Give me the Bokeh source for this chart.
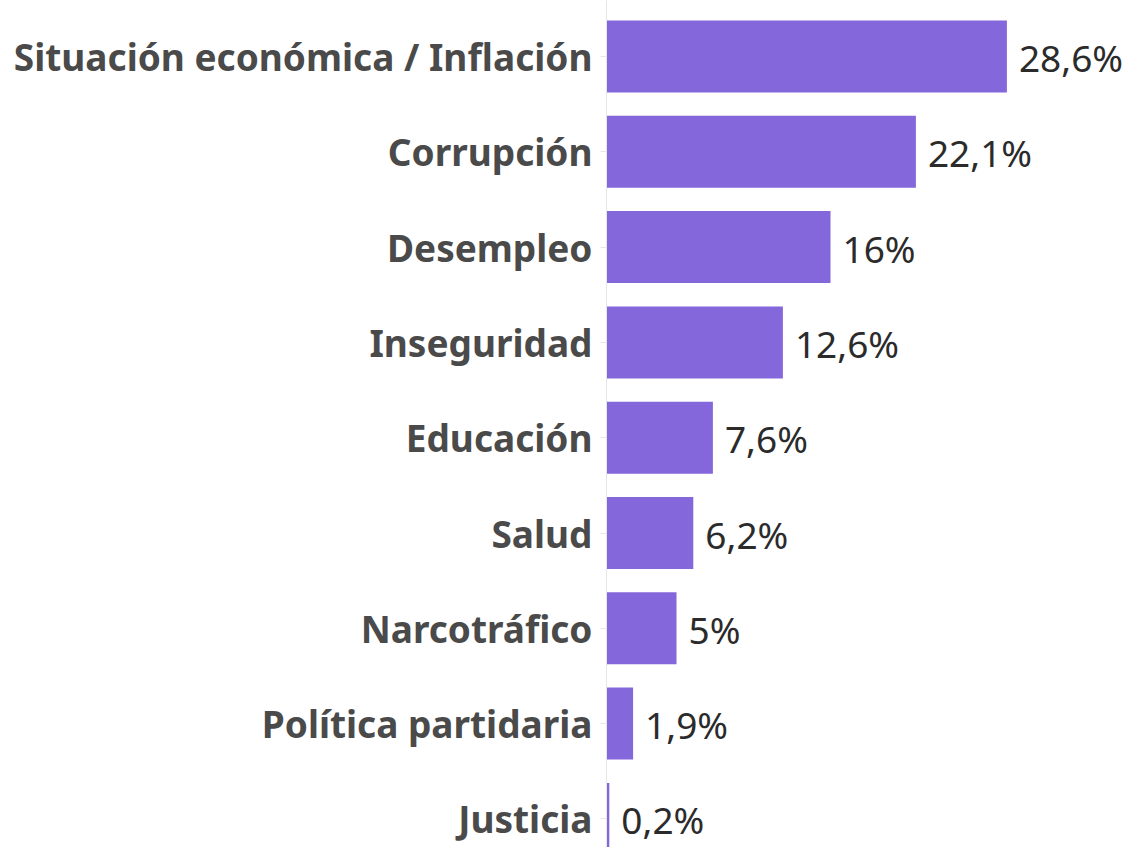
from bokeh.plotting import figure
from bokeh.models import ColumnDataSource, Range1d, FixedTicker
from bokeh.core.properties import value
from bokeh.embed import file_html
from bokeh.resources import INLINE

categories = ["Situación económica / Inflación", "Corrupción", "Desempleo", "Inseguridad",
              "Educación", "Salud", "Narcotráfico", "Política partidaria", "Justicia"]
values = [28.6, 22.1, 16.0, 12.6, 7.6, 6.2, 5.0, 1.9, 0.2]
value_labels = ["28,6%", "22,1%", "16%", "12,6%", "7,6%", "6,2%", "5%", "1,9%", "0,2%"]

idx = list(range(len(categories)))
src = ColumnDataSource(dict(y=idx, v=values, lab=value_labels))

W, H = 1129, 847
left = 606
band = 95.3
top_c = 56.0
p = figure(width=W, height=H, output_backend="svg", toolbar_location=None,
           x_range=Range1d(0, (W - left) / 14.0),
           y_range=Range1d((H - top_c) / band, -top_c / band))
p.min_border_left = left
p.min_border_right = 0
p.min_border_top = 0
p.min_border_bottom = 0
p.outline_line_color = None
p.background_fill_color = "white"
p.border_fill_color = "white"
p.grid.visible = False
p.xaxis.visible = False

p.hbar(y="y", right="v", left=0, height=0.755, source=src,
       fill_color="#8467DB", line_color=None)
p.text(x="v", y="y", text="lab", source=src, x_offset=12, y_offset=1,
       text_align="left", text_baseline="middle",
       text_font=value("Noto Sans"), text_font_size="37px", text_font_style="normal",
       text_color="#2b2b2b")

ya = p.yaxis[0]
ya.ticker = FixedTicker(ticks=idx)
ya.major_label_overrides = {i: c for i, c in zip(idx, categories)}
ya.minor_tick_line_color = None
ya.major_tick_out = 6
ya.major_tick_in = 0
ya.major_tick_line_color = "#e6e6e6"
ya.axis_line_color = "#e6e6e6"
ya.axis_line_width = 1
ya.major_label_text_font = "Noto Sans"
ya.major_label_text_font_style = "bold"
ya.major_label_text_font_size = "37px"
ya.major_label_text_color = "#4a4a4a"
ya.major_label_standoff = 8

open("out.html", "w").write(file_html(p, INLINE))
